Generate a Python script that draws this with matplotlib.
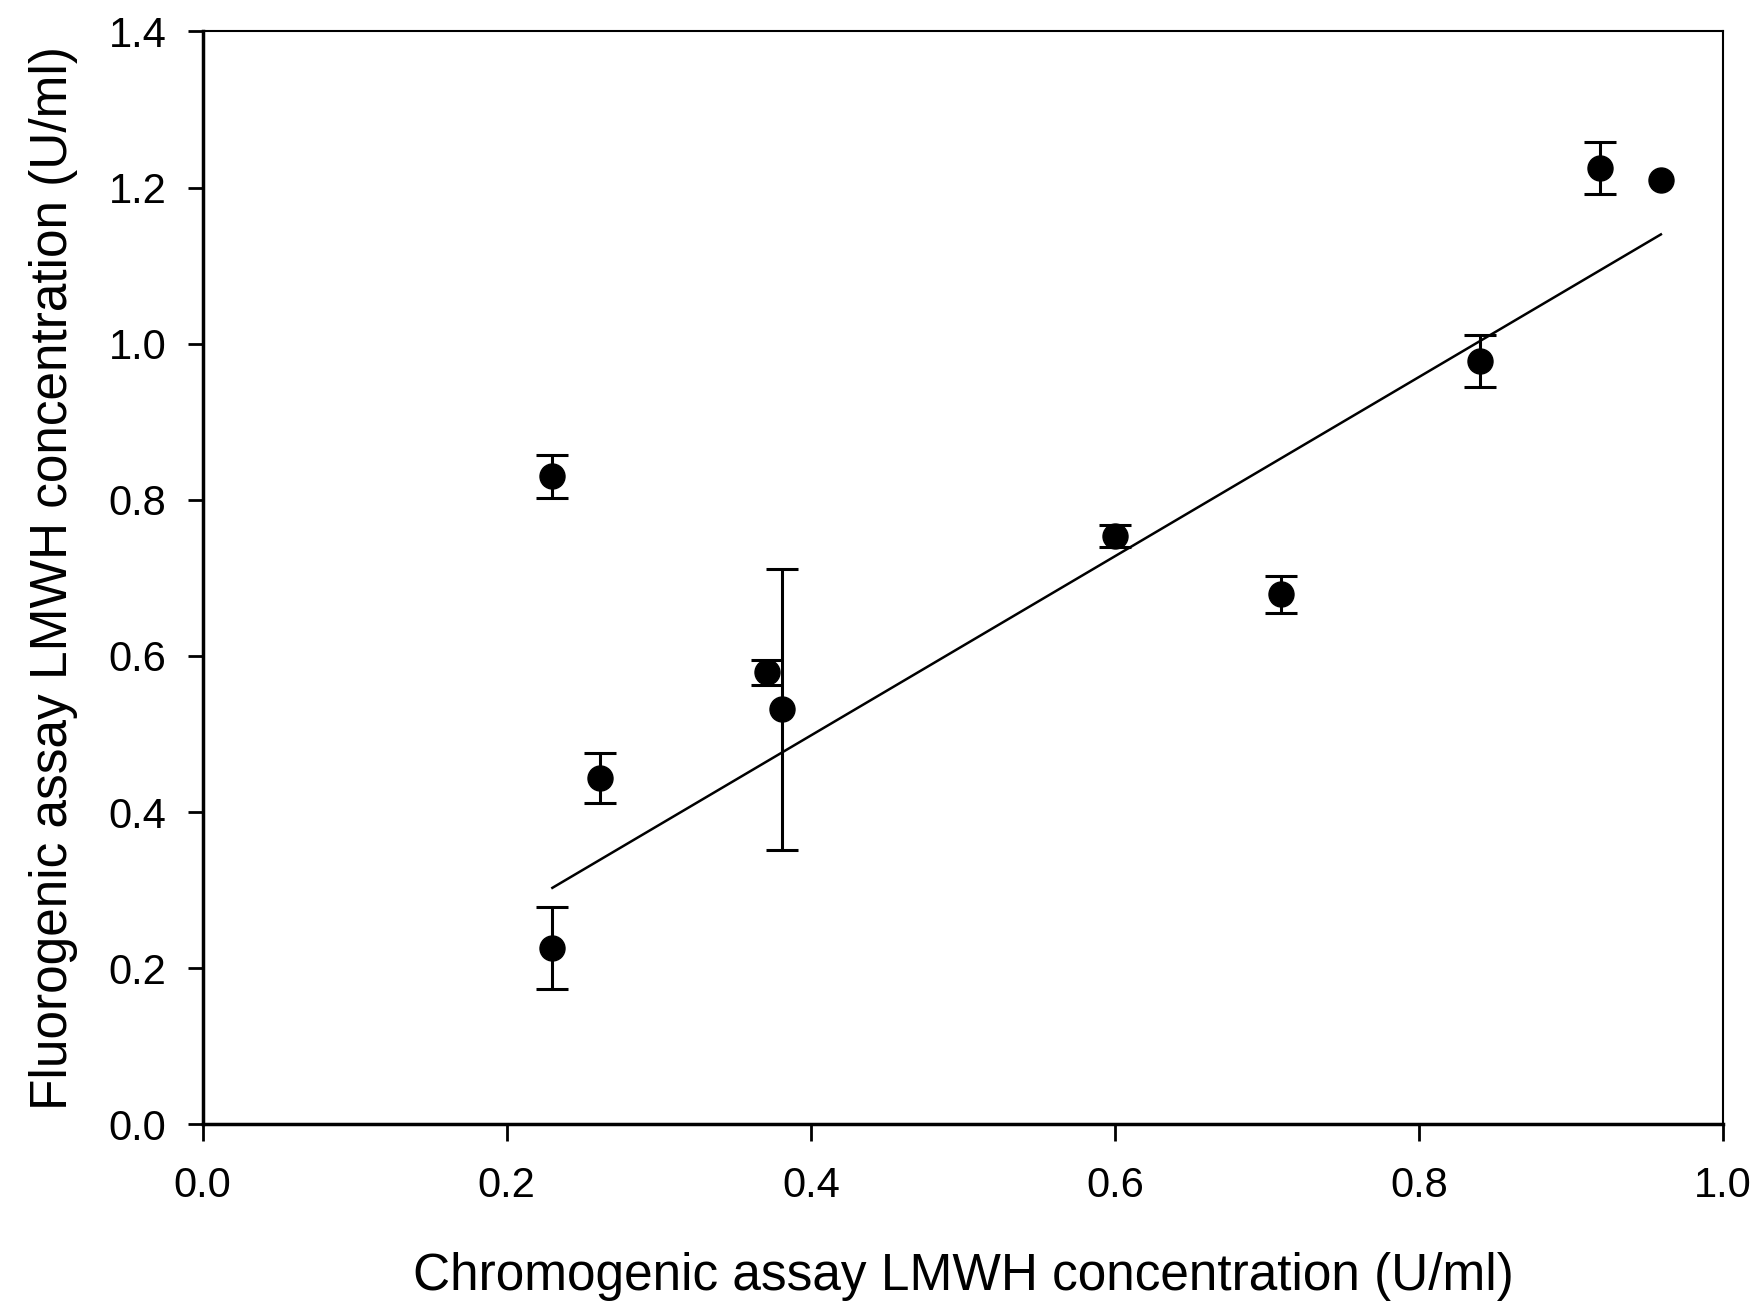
import numpy as np
import matplotlib
matplotlib.use("Agg")
import matplotlib.pyplot as plt

plt.rcParams['font.family'] = ['Liberation Sans', 'DejaVu Sans']

# chromogenic vs fluorogenic LMWH concentration (U/ml)
chromo = [0.23, 0.23, 0.261, 0.371, 0.381, 0.600, 0.709, 0.840, 0.919, 0.959]
fluoro = [0.226, 0.830, 0.444, 0.579, 0.532, 0.754, 0.679, 0.978, 1.225, 1.209]
fluoro_sd = [0.052, 0.028, 0.032, 0.016, 0.180, 0.014, 0.024, 0.033, 0.033, 0.0]

# regression line as drawn in the figure
fit_slope = 1.148
fit_intercept = 0.039

x_ticks = [0.0, 0.2, 0.4, 0.6, 0.8, 1.0]
y_ticks = [0.0, 0.2, 0.4, 0.6, 0.8, 1.0, 1.2, 1.4]

fig = plt.figure(figsize=(17.62, 13.06), dpi=100)
ax = fig.add_axes([0.115, 0.139, 0.863, 0.837])

x = np.array(chromo)
y = np.array(fluoro)
sd = np.array(fluoro_sd)
has_err = sd > 0

# error bars only where there is a spread, markers for every point
ax.errorbar(x[has_err], y[has_err], yerr=sd[has_err], fmt='none', ecolor='black',
            elinewidth=2.2, capsize=11.5, capthick=2.2, zorder=2)
ax.plot(x, y, 'o', color='black', markersize=18, zorder=3)

xf = np.array([x.min(), x.max()])
ax.plot(xf, fit_slope * xf + fit_intercept, color='black', linewidth=1.8)

ax.set_xlim(0, 1.0)
ax.set_ylim(0, 1.4)
ax.set_xticks(x_ticks)
ax.set_yticks(y_ticks)
ax.set_xticklabels([f'{v:.1f}' for v in x_ticks])
ax.set_yticklabels([f'{v:.1f}' for v in y_ticks])

ax.tick_params(axis='x', direction='out', length=12, width=2, pad=18, labelsize=30)
ax.tick_params(axis='y', direction='out', length=11, width=2, pad=15, labelsize=30)

ax.spines['left'].set_linewidth(2.5)
ax.spines['bottom'].set_linewidth(2.5)
ax.spines['top'].set_linewidth(1.5)
ax.spines['right'].set_linewidth(1.5)

ax.set_xlabel('Chromogenic assay LMWH concentration (U/ml)', fontsize=37, labelpad=33)
ax.set_ylabel('Fluorogenic assay LMWH concentration (U/ml)', fontsize=37, labelpad=22)

fig.savefig('out.png', dpi=100)
